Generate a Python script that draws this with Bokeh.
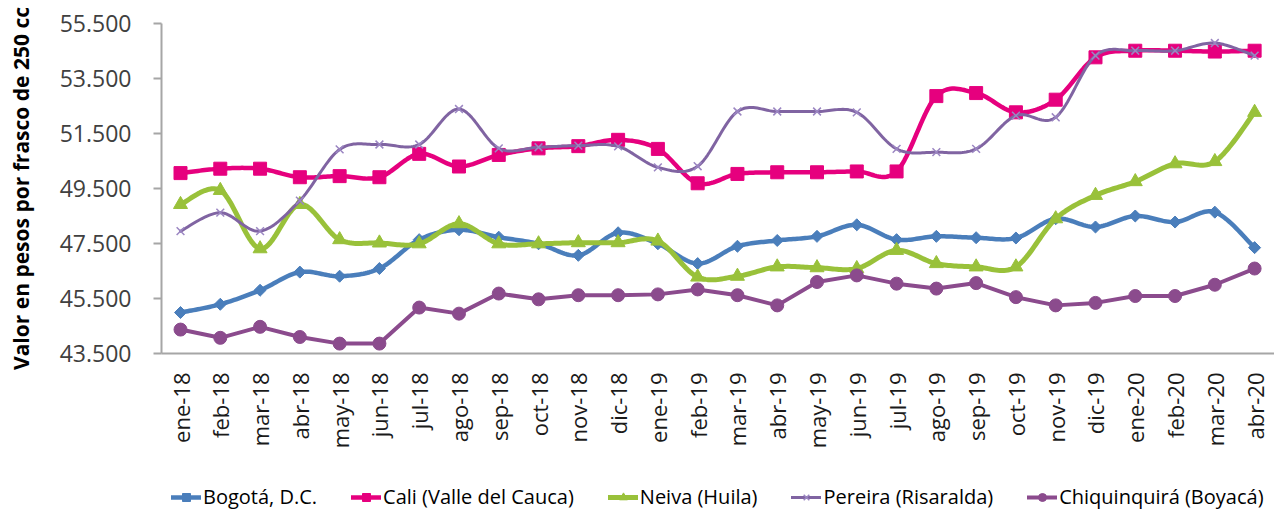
import math
import numpy as np
from bokeh.plotting import figure
from bokeh.layouts import column
from bokeh.models import Range1d, FixedTicker, Legend, LegendItem
from bokeh.embed import file_html
from bokeh.resources import INLINE

months = ["ene-18", "feb-18", "mar-18", "abr-18", "may-18", "jun-18", "jul-18",
          "ago-18", "sep-18", "oct-18", "nov-18", "dic-18", "ene-19", "feb-19",
          "mar-19", "abr-19", "may-19", "jun-19", "jul-19", "ago-19", "sep-19",
          "oct-19", "nov-19", "dic-19", "ene-20", "feb-20", "mar-20", "abr-20"]

bogota = [44990, 45290, 45800, 46460, 46310, 46590, 47640, 48000, 47730, 47490,
          47070, 47890, 47490, 46770, 47400, 47610, 47760, 48180, 47640, 47760,
          47710, 47700, 48400, 48100, 48500, 48280, 48640, 47350]
cali = [50060, 50220, 50220, 49910, 49950, 49910, 50760, 50300, 50720, 50960,
        51040, 51270, 50940, 49690, 50030, 50090, 50090, 50120, 50120, 52860,
        52970, 52270, 52730, 54270, 54510, 54510, 54480, 54510]
neiva = [48920, 49430, 47310, 48920, 47640, 47520, 47490, 48220, 47490, 47490,
         47530, 47530, 47590, 46280, 46310, 46650, 46620, 46590, 47250, 46770,
         46650, 46650, 48400, 49250, 49750, 50400, 50480, 52270]
pereira = [47950, 48620, 47950, 49060, 50920, 51100, 51100, 52390, 50960, 51000,
           51060, 51030, 50270, 50310, 52300, 52300, 52300, 52270, 50940, 50820,
           50940, 52150, 52090, 54330, 54510, 54510, 54790, 54330]
chiquinquira = [44370, 44070, 44470, 44100, 43860, 43860, 45170, 44950, 45680, 45470,
                45620, 45620, 45650, 45830, 45620, 45250, 46100, 46340, 46040, 45860,
                46060, 45550, 45250, 45340, 45590, 45590, 46000, 46590]

y_ticks = [43500, 45500, 47500, 49500, 51500, 53500, 55500]

FONT = "Open Sans"


def smooth(ys, n=20):
    """Catmull-Rom style smoothing (like Excel 'smoothed line')."""
    x = np.arange(len(ys), dtype=float)
    P = np.column_stack([x, np.asarray(ys, dtype=float)])
    xs_out, ys_out = [], []
    last = len(P) - 1
    for i in range(last):
        p0 = P[max(i - 1, 0)]
        p1 = P[i]
        p2 = P[i + 1]
        p3 = P[min(i + 2, last)]
        c1 = p1 + (p2 - p0) / 6.0
        c2 = p2 - (p3 - p1) / 6.0
        t = np.linspace(0, 1, n, endpoint=(i == last - 1))[:, None]
        pts = ((1 - t) ** 3) * p1 + 3 * ((1 - t) ** 2) * t * c1 + 3 * (1 - t) * t ** 2 * c2 + t ** 3 * p2
        xs_out.extend(pts[:, 0].tolist())
        ys_out.extend(pts[:, 1].tolist())
    return xs_out, ys_out


W = 1274
p = figure(width=W, height=455, output_backend="svg", toolbar_location=None,
           x_range=Range1d(-0.478, 27.5), y_range=Range1d(43500, 55500),
           min_border_left=161, min_border_right=0, min_border_top=23,
           min_border_bottom=102)
p.outline_line_color = None
p.xgrid.visible = False
p.ygrid.visible = False
p.background_fill_color = "white"
p.border_fill_color = "white"

# y axis
p.yaxis.ticker = FixedTicker(ticks=y_ticks)
p.yaxis.major_label_overrides = {v: f"{v:,}".replace(",", ".") for v in y_ticks}
p.yaxis.axis_label = "Valor en pesos por frasco de 250 cc"
p.yaxis.axis_label_text_font = FONT
p.yaxis.axis_label_text_font_style = "bold"
p.yaxis.axis_label_text_font_size = "21px"
p.yaxis.axis_label_text_color = "#000000"
p.yaxis.axis_label_standoff = 22
p.yaxis.major_label_text_font = FONT
p.yaxis.major_label_text_font_size = "23px"
p.yaxis.major_label_text_color = "#404040"
p.yaxis.major_label_standoff = 22
p.yaxis.axis_line_color = "#A6A6A6"
p.yaxis.axis_line_width = 2
p.yaxis.major_tick_line_color = "#A6A6A6"
p.yaxis.major_tick_line_width = 2
p.yaxis.major_tick_out = 8
p.yaxis.major_tick_in = 0
p.yaxis.minor_tick_line_color = None

# x axis
p.xaxis.ticker = FixedTicker(ticks=list(range(len(months))))
p.xaxis.major_label_overrides = {i: m for i, m in enumerate(months)}
p.xaxis.major_label_orientation = math.pi / 2
p.xaxis.major_label_text_font = FONT
p.xaxis.major_label_text_font_size = "22px"
p.xaxis.major_label_text_color = "#1a1a1a"
p.xaxis.major_label_standoff = 13
p.xaxis.axis_line_color = "#A6A6A6"
p.xaxis.axis_line_width = 2
p.xaxis.major_tick_line_color = None
p.xaxis.minor_tick_line_color = None

x = list(range(len(months)))

series = [
    ("Bogotá, D.C.", bogota, "#4A7EBB", 4.5, True,
     dict(marker="square", angle=math.pi / 4, size=8.5)),
    ("Cali (Valle del Cauca)", cali, "#E6007E", 4.5, True,
     dict(marker="square", size=13)),
    ("Neiva (Huila)", neiva, "#99C13A", 5, True,
     dict(marker="triangle", size=14)),
    ("Pereira (Risaralda)", pereira, "#8064A2", 3, True,
     dict(marker="x", size=11)),
    ("Chiquinquirá (Boyacá)", chiquinquira, "#8B4B8D", 4, False,
     dict(marker="circle", size=13)),
]

# legend figure underneath (same glyph styles, placeholder point outside its view)
lg = figure(width=W, height=55, output_backend="svg", toolbar_location=None,
            x_range=Range1d(0, 1), y_range=Range1d(0, 1),
            x_axis_type=None, y_axis_type=None, min_border=0)
lg.outline_line_color = None
lg.xgrid.visible = False
lg.ygrid.visible = False

items = []
for name, ys, color, lw, smooth_it, mk in series:
    if smooth_it:
        sx, sy = smooth(ys)
    else:
        sx, sy = x, ys
    line_kw = dict(line_color=color, line_width=lw, line_join="round", line_cap="round")
    if mk["marker"] == "x":
        sc_kw = dict(marker="x", size=mk["size"], line_color="#9B86C2", line_width=1.5)
    else:
        sc_kw = dict(marker=mk["marker"], size=mk["size"], angle=mk.get("angle", 0),
                     fill_color=color, line_color=color, line_width=1)
    p.line(sx, sy, **line_kw)
    p.scatter(x, ys, **sc_kw)
    lr = lg.line([-10, -9], [-10, -10], **line_kw)
    sr = lg.scatter([-10], [-10], **sc_kw)
    items.append(LegendItem(label=name, renderers=[lr, sr]))

legend = Legend(items=items, orientation="horizontal", location=(10, 0),
                label_text_font=FONT, label_text_font_size="20px",
                label_text_color="#000000", glyph_width=30, glyph_height=20,
                label_standoff=2, spacing=34, padding=0, margin=0,
                background_fill_alpha=0, border_line_color=None)
lg.add_layout(legend, "center")

open("out.html", "w").write(file_html(column(p, lg, spacing=0), INLINE))
